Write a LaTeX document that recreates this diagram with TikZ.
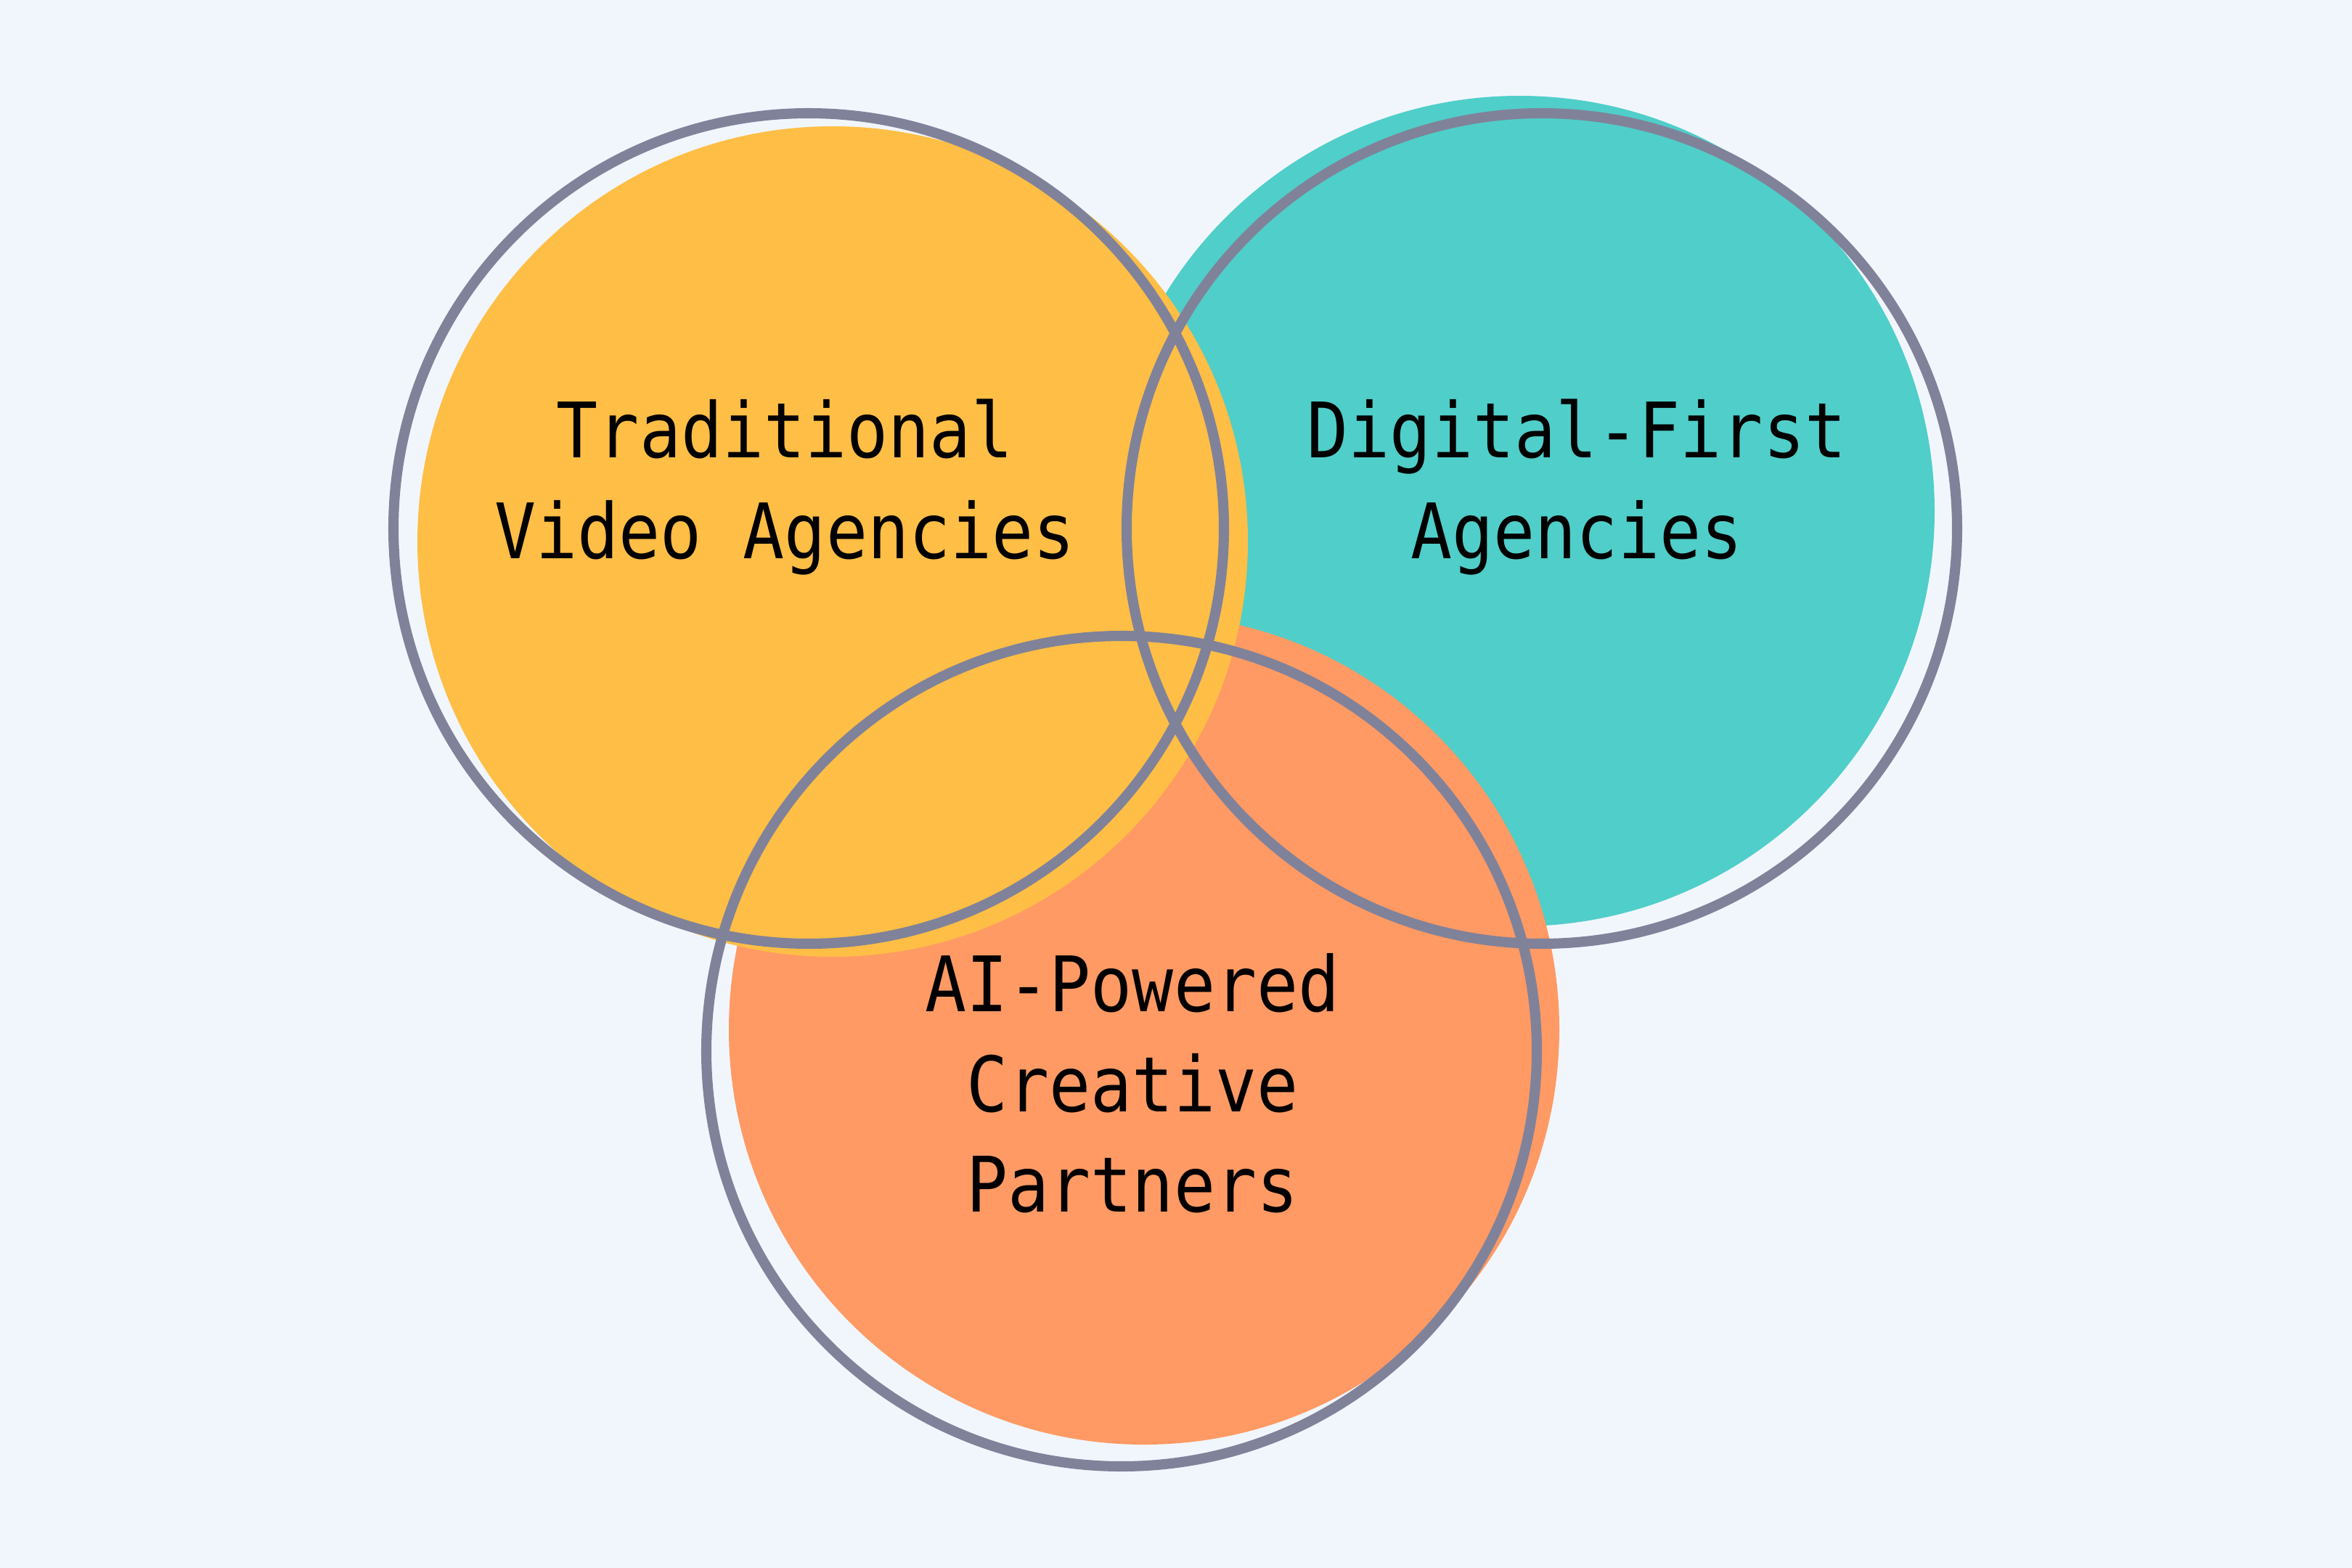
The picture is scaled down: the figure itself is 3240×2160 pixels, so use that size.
\documentclass[tikz,border=0pt]{standalone}
\usepackage{fontspec}
\usepackage{tikz}
\newfontfamily\vennfont{DejaVu Sans Mono}[FakeStretch=0.9]
\definecolor{bgblue}{HTML}{F1F6FD}
\definecolor{tradyellow}{HTML}{FFBE45}
\definecolor{digiteal}{HTML}{50CEC9}
\definecolor{aiorange}{HTML}{FF9A64}
\definecolor{ringgray}{HTML}{80829A}

\begin{document}
\begin{tikzpicture}[x=0.1mm,y=-0.1mm]
\tikzstyle{every node}=[font=\vennfont\fontsize{30}{39.3}\selectfont,align=center,text=black]
\tikzstyle{ring}=[draw=ringgray,line width=4pt]
\fill[bgblue](0,0) rectangle (3240,2160);
% filled discs, slightly off the rings
\fill[digiteal](2093,704) circle[radius=572];
\fill[aiorange](1576,1418) circle[radius=572];
\fill[tradyellow](1147,746) circle[radius=572];
% rings
\draw[ring](1114,728) circle[radius=572];
\draw[ring](2124,728) circle[radius=572];
\draw[ring](1545,1448) circle[radius=572];
\node(trad) at (1081,671){Traditional\\Video Agencies};
\node(digi) at (2172,671){Digital-First\\Agencies};
\node(aipow) at (1560,1492){AI-Powered\\Creative\\Partners};
\end{tikzpicture}
\end{document}
